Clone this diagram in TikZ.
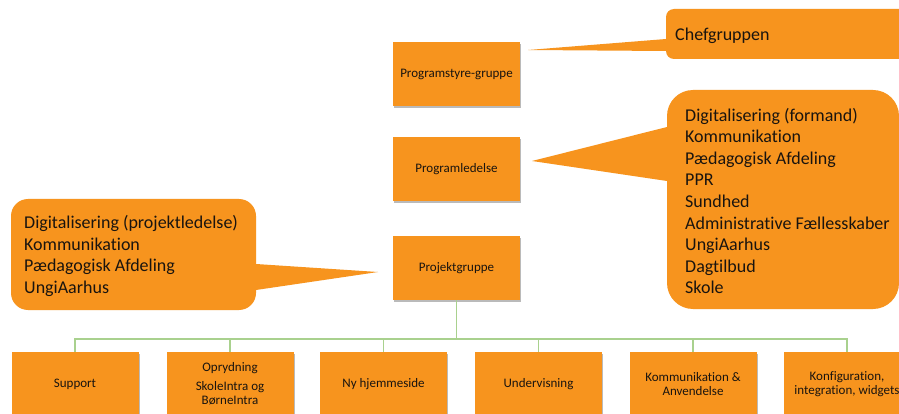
\documentclass[tikz,border=0pt]{standalone}
\usepackage{fontspec}
\setmainfont{Carlito}[Ligatures=NoCommon]
\usetikzlibrary{shadows}
\definecolor{orng}{RGB}{247,148,30}
\definecolor{lgreen}{RGB}{169,209,142}
\definecolor{txt}{RGB}{25,20,15}
\tikzset{
  orgbox/.style={fill=orng, draw=none, minimum width=127pt, minimum height=64pt, inner sep=0pt,
    align=center, text=txt, font=\fontsize{13}{14}\selectfont,
    drop shadow={opacity=0.45, shadow xshift=1pt, shadow yshift=-2pt, fill=black!60}},
  calltext/.style={anchor=west, inner sep=0pt, align=left, text=txt, font=\fontsize{18}{21.6}\selectfont},
  callfill/.style={fill=orng, draw=none},
  tree/.style={draw=lgreen, line width=1.3pt}
}
\begin{document}
\begin{tikzpicture}[x=1pt, y=-1pt]
\clip (0,0) rectangle (899,414);
\fill[white] (0,0) rectangle (899,414);

% callouts
\fill[callfill, rounded corners=8pt] (666,9) rectangle (930,59);
\fill[callfill] (680,39) -- (666,39) -- (528,50) -- (666,51) -- (680,51) -- cycle;
\node[calltext] (chef) at (675,35.5) {Chefgruppen};

\fill[callfill, rounded corners=26pt] (667,90) rectangle (899,309);
\fill[callfill] (700,127) -- (667,127) -- (532,161) -- (667,181) -- (700,181) -- cycle;
\node[calltext] (plmembers) at (685,201) {Digitalisering (formand)\\Kommunikation\\Pædagogisk Afdeling\\PPR\\Sundhed\\Administrative Fællesskaber\\UngiAarhus\\Dagtilbud\\Skole};

\fill[callfill, rounded corners=17pt] (11,199) rectangle (256,310);
\fill[callfill] (230,264) -- (256,264) -- (378,272) -- (256,290) -- (230,290) -- cycle;
\node[calltext] (pgmembers) at (24,256) {Digitalisering (projektledelse)\\Kommunikation\\Pædagogisk Afdeling\\UngiAarhus};

% main boxes
\node[orgbox] (psg) at (456.5,74) {Programstyre-gruppe};
\node[orgbox] (pl) at (456.5,169) {Programledelse};
\node[orgbox] (pg) at (456.5,268) {Projektgruppe};

% children
\coordinate (bus) at (456.5,339);
\node[orgbox] (c1) at (75,384) {Support};
\node[orgbox] (c2) at (230,384) {Oprydning\\[5pt]SkoleIntra og\\BørneIntra};
\node[orgbox] (c3) at (383.5,384) {Ny hjemmeside};
\node[orgbox] (c4) at (538.5,384) {Undervisning};
\node[orgbox] (c5) at (693,384) {Kommunikation \&\\Anvendelse};
\node[orgbox] (c6) at (847,384) {Konfiguration,\\integration, widgets};

\draw[tree] (pg.south) -- (bus);
\foreach \c in {c1,c2,c3,c4,c5,c6} {
  \draw[tree] (bus) -| (\c.north);
}
\end{tikzpicture}
\end{document}
